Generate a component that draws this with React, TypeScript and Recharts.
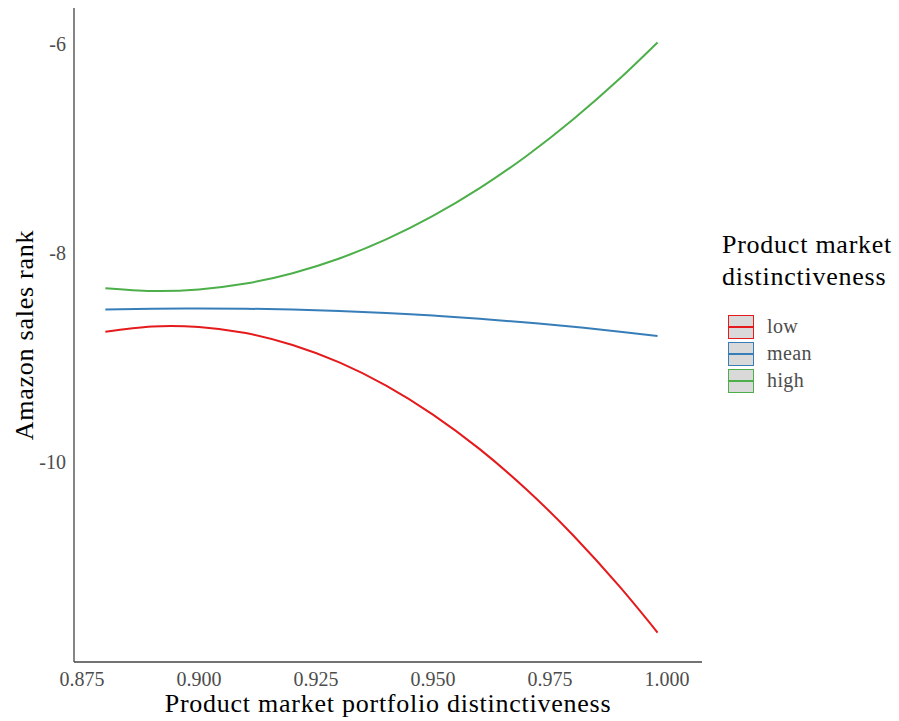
import { LineChart, Line, XAxis, YAxis } from "recharts";

const xValues = [0.88, 0.89, 0.9, 0.91, 0.92, 0.93, 0.94, 0.95, 0.96, 0.97, 0.98, 0.99, 0.998];
const lowValues = [-8.754, -8.703, -8.708, -8.766, -8.88, -9.047, -9.269, -9.546, -9.877, -10.263, -10.703, -11.198, -11.632];
const meanValues = [-8.541, -8.533, -8.53, -8.533, -8.541, -8.555, -8.574, -8.599, -8.629, -8.665, -8.706, -8.753, -8.795];
const highValues = [-8.336, -8.363, -8.348, -8.292, -8.193, -8.052, -7.87, -7.645, -7.379, -7.071, -6.72, -6.328, -5.985];

const xTicks = [0.875, 0.9, 0.925, 0.95, 0.975, 1.0];
const yTicks = [-10, -8, -6];
const seriesNames = ["low", "mean", "high"];
const seriesColors = ["#E41A1C", "#377EB8", "#4DAF4A"];

const data = xValues.map((x, i) => ({ x, low: lowValues[i], mean: meanValues[i], high: highValues[i] }));

const FONT = "'Liberation Serif', serif";

const XTitle = ({ viewBox }: any) => {
  const vb = viewBox || { x: 74, y: 662, width: 628, height: 59 };
  return (
    <text x={vb.x + vb.width / 2} y={vb.y + 50} textAnchor="middle" fontFamily={FONT} fontSize={26} letterSpacing={0.75} fill="#000">
      Product market portfolio distinctiveness
    </text>
  );
};

const YTitle = ({ viewBox }: any) => {
  const vb = viewBox || { x: 0, y: 8, width: 74, height: 654 };
  const cx = vb.x + 33;
  const cy = vb.y + vb.height / 2;
  return (
    <text x={cx} y={cy} transform={`rotate(-90, ${cx}, ${cy})`} textAnchor="middle" fontFamily={FONT} fontSize={26} letterSpacing={0.75} fill="#000">
      Amazon sales rank
    </text>
  );
};

export default function App() {
  return (
    <div style={{ position: "absolute", left: 0, top: 0, width: 899, height: 721, background: "#fff" }}>
      <LineChart width={899} height={721} data={data} margin={{ top: 8, right: 197, bottom: 0, left: 0 }}>
        <XAxis
          dataKey="x"
          type="number"
          domain={[0.8733, 1.0075]}
          ticks={xTicks}
          tickFormatter={(v: number) => v.toFixed(3)}
          height={59}
          tickSize={0}
          tickMargin={10}
          tickLine={false}
          axisLine={{ stroke: "#444", strokeWidth: 1.3 }}
          tick={{ fontFamily: FONT, fontSize: 20, fill: "#4D4D4D" }}
          label={<XTitle />}
        />
        <YAxis
          type="number"
          domain={[-11.914, -5.655]}
          ticks={yTicks}
          width={74}
          tickSize={0}
          tickMargin={8}
          tickLine={false}
          axisLine={{ stroke: "#444", strokeWidth: 1.3 }}
          tick={{ fontFamily: FONT, fontSize: 20, fill: "#4D4D4D" }}
          label={<YTitle />}
        />
        {seriesNames.map((name, i) => (
          <Line
            key={name}
            dataKey={name}
            type="natural"
            stroke={seriesColors[i]}
            strokeWidth={2}
            dot={false}
            activeDot={false}
            isAnimationActive={false}
          />
        ))}
      </LineChart>

      {/* legend */}
      <div style={{ position: "absolute", left: 722, top: 229, fontFamily: FONT, color: "#000" }}>
        <div style={{ fontSize: 26, lineHeight: "32px", letterSpacing: 0.75 }}>Product market</div>
        <div style={{ fontSize: 26, lineHeight: "32px", letterSpacing: 0.75 }}>distinctiveness</div>
        <div style={{ marginTop: 20, marginLeft: 6 }}>
          {seriesNames.map((name, i) => (
            <div key={name} style={{ display: "flex", alignItems: "center", height: 27 }}>
              <div style={{ position: "relative", width: 24, height: 22, border: `1.5px solid ${seriesColors[i]}`, background: "#D9D9D9" }}>
                <div style={{ position: "absolute", left: 0, right: 0, top: 10, height: 2, background: seriesColors[i] }} />
              </div>
              <span style={{ marginLeft: 13, fontSize: 20, color: "#4D4D4D", letterSpacing: 0.4 }}>{name}</span>
            </div>
          ))}
        </div>
      </div>
    </div>
  );
}
